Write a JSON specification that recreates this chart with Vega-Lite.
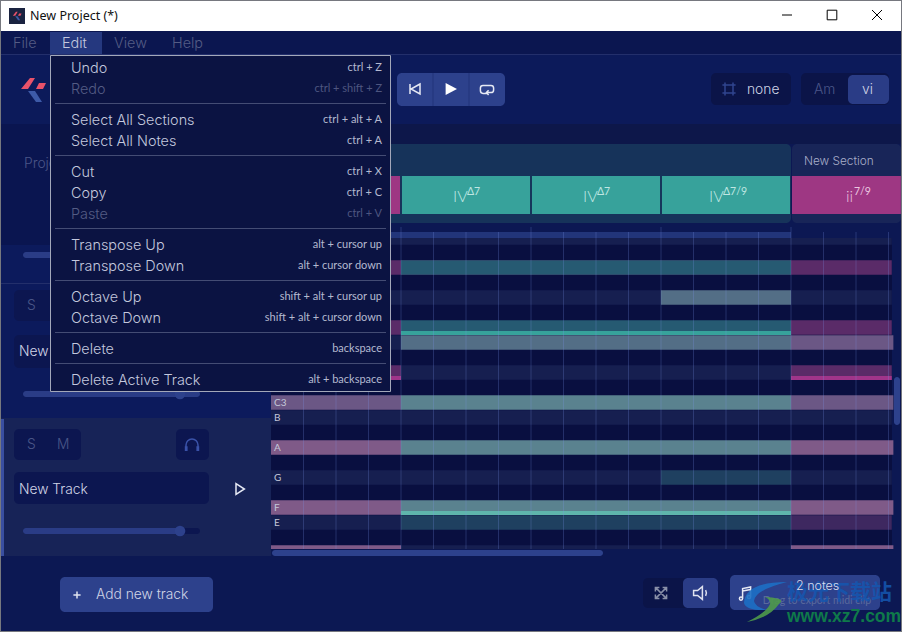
{
  "$schema": "https://vega.github.io/schema/vega-lite/v6.json",
  "width": 902,
  "height": 632,
  "autosize": {"type": "fit", "contains": "padding"},
  "padding": 0,
  "background": "#0c1853",
  "config": {"view": {"stroke": null}},
  "resolve": {"scale": {"x": "independent", "y": "independent", "color": "independent", "shape": "independent"}},
  "datasets": {
    "rows": [
      {"start": -4, "end": 15.1, "pitch": 59, "state": "band"},
      {"start": -4, "end": 12, "pitch": 57, "state": "chordPink"},
      {"start": 0, "end": 12, "pitch": 57, "state": "chordTeal"},
      {"start": 12, "end": 15.1, "pitch": 57, "state": "chordPink"},
      {"start": -4, "end": 8, "pitch": 55, "state": "band"},
      {"start": 8, "end": 12, "pitch": 55, "state": "grey"},
      {"start": 12, "end": 15.1, "pitch": 55, "state": "band"},
      {"start": -4, "end": 0, "pitch": 53, "state": "chordPink"},
      {"start": 0, "end": 12, "pitch": 53, "state": "chordTeal"},
      {"start": 12, "end": 15.1, "pitch": 53, "state": "chordPink"},
      {"start": -4, "end": 0, "pitch": 52, "state": "band"},
      {"start": 0, "end": 12, "pitch": 52, "state": "grey"},
      {"start": 12, "end": 15.15, "pitch": 52, "state": "greyPink"},
      {"start": -4, "end": 0, "pitch": 50, "state": "chordPink"},
      {"start": 0, "end": 12, "pitch": 50, "state": "band"},
      {"start": 12, "end": 15.1, "pitch": 50, "state": "chordPink"},
      {"start": -4, "end": 0, "pitch": 48, "state": "greyPink"},
      {"start": 0, "end": 12, "pitch": 48, "state": "paleTeal"},
      {"start": 12, "end": 15.15, "pitch": 48, "state": "greyPink"},
      {"start": -4, "end": 15.1, "pitch": 47, "state": "band"},
      {"start": -4, "end": 0, "pitch": 45, "state": "palePink"},
      {"start": 0, "end": 12, "pitch": 45, "state": "paleTeal"},
      {"start": 12, "end": 15.15, "pitch": 45, "state": "palePink"},
      {"start": -4, "end": 8, "pitch": 43, "state": "band"},
      {"start": 8, "end": 12, "pitch": 43, "state": "darkTeal"},
      {"start": 12, "end": 15.1, "pitch": 43, "state": "band"},
      {"start": -4, "end": 0, "pitch": 41, "state": "palePink"},
      {"start": 0, "end": 12, "pitch": 41, "state": "paleTeal"},
      {"start": 12, "end": 15.15, "pitch": 41, "state": "palePink"},
      {"start": -4, "end": 0, "pitch": 40, "state": "band"},
      {"start": 0, "end": 12, "pitch": 40, "state": "darkTeal"},
      {"start": 12, "end": 15.1, "pitch": 40, "state": "darkPink"},
      {"start": -4, "end": 0, "pitch": 38, "state": "palePink"},
      {"start": 0, "end": 12, "pitch": 38, "state": "band"},
      {"start": 12, "end": 15.15, "pitch": 38, "state": "palePink"}
    ]
  },
  "encoding": {
    "x": {"field": "x", "type": "quantitative", "scale": {"domain": [0, 902], "range": [0, 902]}, "axis": null},
    "y": {"field": "y", "type": "quantitative", "scale": {"domain": [0, 632], "range": [0, 632]}, "axis": null}
  },
  "layer": [
    {
      "data": {"values": [
        {"part": "frame", "x": 0, "x2": 902, "y": 0, "y2": 632},
        {"part": "main", "x": 1, "x2": 901, "y": 1, "y2": 631},
        {"part": "title", "x": 1, "x2": 901, "y": 1, "y2": 31},
        {"part": "menubar", "x": 1, "x2": 901, "y": 31, "y2": 54},
        {"part": "line", "x": 1, "x2": 901, "y": 54, "y2": 55},
        {"part": "edit", "x": 50, "x2": 102, "y": 32, "y2": 54},
        {"part": "header", "x": 1, "x2": 901, "y": 55, "y2": 124},
        {"part": "sidebar", "x": 1, "x2": 271, "y": 124, "y2": 245},
        {"part": "strip", "x": 271, "x2": 901, "y": 124, "y2": 144},
        {"part": "track", "x": 1, "x2": 271, "y": 245, "y2": 418},
        {"part": "line", "x": 1, "x2": 271, "y": 283, "y2": 284},
        {"part": "active", "x": 1, "x2": 271, "y": 418, "y2": 556},
        {"part": "accent", "x": 1, "x2": 4, "y": 419, "y2": 556},
        {"part": "roll", "x": 271, "x2": 892, "y": 238, "y2": 549}
      ]},
      "mark": {"type": "rect"},
      "encoding": {
        "x2": {"field": "x2"},
        "y2": {"field": "y2"},
        "color": {"field": "part", "type": "nominal", "legend": null, "scale": {
          "domain": ["frame", "main", "title", "menubar", "line", "edit", "header", "sidebar", "strip", "track", "active", "accent", "roll"],
          "range": ["#76787f", "#0c1853", "#ffffff", "#0b1650", "#232f6b", "#25387f", "#0c1a5a", "#0a1550", "#0d174a", "#0c1a5c", "#172357", "#3a4fa0", "#090f40"]
        }}
      }
    },
    {
      "data": {"name": "rows"},
      "mark": {"type": "rect"},
      "encoding": {
        "x": {"field": "start", "type": "quantitative", "scale": {"domain": [-4, 12], "range": [271, 791]}, "axis": null},
        "x2": {"field": "end"},
        "y": {"field": "pitch", "type": "ordinal", "axis": null, "scale": {
          "type": "band",
          "domain": [59, 58, 57, 56, 55, 54, 53, 52, 51, 50, 49, 48, 47, 46, 45, 44, 43, 42, 41, 40, 39, 38],
          "range": [230, 560],
          "paddingInner": 0.03,
          "paddingOuter": 0.015
        }},
        "color": {"field": "state", "type": "nominal", "legend": null, "scale": {
          "domain": ["band", "chordPink", "chordTeal", "grey", "greyPink", "paleTeal", "palePink", "darkTeal", "darkPink"],
          "range": ["#161f50", "#5a2b68", "#265a72", "#536e86", "#6b5785", "#5a828f", "#7f5a88", "#1f4060", "#3e2860"]
        }}
      }
    },
    {
      "data": {"values": [
        {"start": 0, "end": 12, "pitch": 53, "voice": "teal"},
        {"start": -4, "end": 0, "pitch": 50, "voice": "pink"},
        {"start": 12, "end": 15.1, "pitch": 50, "voice": "pink"},
        {"start": 0, "end": 12, "pitch": 41, "voice": "bright"}
      ]},
      "mark": {"type": "rect", "height": 4, "yOffset": 5.5},
      "encoding": {
        "x": {"field": "start", "type": "quantitative", "scale": {"domain": [-4, 12], "range": [271, 791]}, "axis": null},
        "x2": {"field": "end"},
        "y": {"field": "pitch", "type": "ordinal", "axis": null, "scale": {
          "type": "band",
          "domain": [59, 58, 57, 56, 55, 54, 53, 52, 51, 50, 49, 48, 47, 46, 45, 44, 43, 42, 41, 40, 39, 38],
          "range": [230, 560],
          "paddingInner": 0.03,
          "paddingOuter": 0.015
        }},
        "color": {"field": "voice", "type": "nominal", "legend": null, "scale": {"domain": ["teal", "pink", "bright"], "range": ["#37a29b", "#a0358a", "#5fb5ac"]}}
      }
    },
    {
      "data": {"values": [
        {"part": "main", "x": 271, "x2": 901, "y": 223, "y2": 238},
        {"part": "main", "x": 271, "x2": 901, "y": 549, "y2": 631},
        {"part": "ruler", "x": 271, "x2": 791, "y": 232, "y2": 238}
      ]},
      "mark": {"type": "rect"},
      "encoding": {
        "x2": {"field": "x2"},
        "y2": {"field": "y2"},
        "color": {"field": "part", "type": "nominal", "legend": null, "scale": {"domain": ["main", "ruler"], "range": ["#0c1853", "#22357a"]}}
      }
    },
    {
      "data": {"values": [
        {"beat": -3, "y": 232, "y2": 549}, {"beat": -2, "y": 232, "y2": 549}, {"beat": -1, "y": 232, "y2": 549},
        {"beat": 1, "y": 232, "y2": 549}, {"beat": 2, "y": 232, "y2": 549}, {"beat": 3, "y": 232, "y2": 549},
        {"beat": 5, "y": 232, "y2": 549}, {"beat": 6, "y": 232, "y2": 549}, {"beat": 7, "y": 232, "y2": 549},
        {"beat": 9, "y": 232, "y2": 549}, {"beat": 10, "y": 232, "y2": 549}, {"beat": 11, "y": 232, "y2": 549},
        {"beat": 13, "y": 232, "y2": 549}, {"beat": 14, "y": 232, "y2": 549}, {"beat": 15, "y": 232, "y2": 549},
        {"beat": 0, "y": 227, "y2": 549}, {"beat": 4, "y": 227, "y2": 549}, {"beat": 8, "y": 227, "y2": 549}, {"beat": 12, "y": 227, "y2": 549}
      ]},
      "mark": {"type": "rule", "color": "#7f95f0", "opacity": 0.24, "strokeWidth": 1},
      "encoding": {
        "x": {"field": "beat", "type": "quantitative", "scale": {"domain": [-4, 12], "range": [271, 791]}, "axis": null},
        "y2": {"field": "y2"}
      }
    },
    {
      "data": {"values": [
        {"part": "sectionOne", "x": 271, "x2": 791, "y": 144, "y2": 223},
        {"part": "sectionTwo", "x": 792, "x2": 901, "y": 144, "y2": 223},
        {"part": "button", "x": 397, "x2": 505, "y": 73, "y2": 106},
        {"part": "chip", "x": 711, "x2": 791, "y": 73, "y2": 105},
        {"part": "chip", "x": 801, "x2": 889, "y": 73, "y2": 105},
        {"part": "toggle", "x": 848, "x2": 889, "y": 75, "y2": 104},
        {"part": "field", "x": 14, "x2": 81, "y": 290, "y2": 321},
        {"part": "field", "x": 14, "x2": 209, "y": 335, "y2": 368},
        {"part": "field", "x": 14, "x2": 81, "y": 429, "y2": 460},
        {"part": "field", "x": 176, "x2": 209, "y": 429, "y2": 460},
        {"part": "field", "x": 14, "x2": 209, "y": 472, "y2": 504},
        {"part": "toggle", "x": 23, "x2": 200, "y": 252, "y2": 258},
        {"part": "toggle", "x": 23, "x2": 200, "y": 391, "y2": 397},
        {"part": "field", "x": 175, "x2": 200, "y": 528, "y2": 534},
        {"part": "toggle", "x": 23, "x2": 180, "y": 528, "y2": 534},
        {"part": "button", "x": 60, "x2": 213, "y": 577, "y2": 612},
        {"part": "chip", "x": 643, "x2": 690, "y": 578, "y2": 608},
        {"part": "toggle", "x": 683, "x2": 718, "y": 578, "y2": 608},
        {"part": "button", "x": 730, "x2": 880, "y": 575, "y2": 610},
        {"part": "button", "x": 272, "x2": 603, "y": 550, "y2": 556},
        {"part": "button", "x": 894, "x2": 900, "y": 377, "y2": 425}
      ]},
      "mark": {"type": "rect", "cornerRadius": 5},
      "encoding": {
        "x2": {"field": "x2"},
        "y2": {"field": "y2"},
        "color": {"field": "part", "type": "nominal", "legend": null, "scale": {
          "domain": ["sectionOne", "sectionTwo", "button", "chip", "toggle", "field"],
          "range": ["#16335a", "#182558", "#2d418c", "#0b1448", "#2a3c86", "#0c1650"]
        }}
      }
    },
    {
      "data": {"values": [
        {"x": 432.5, "x2": 433.5, "y": 73, "y2": 106},
        {"x": 468.5, "x2": 469.5, "y": 73, "y2": 106}
      ]},
      "mark": {"type": "rect", "color": "#22357a"},
      "encoding": {"x2": {"field": "x2"}, "y2": {"field": "y2"}}
    },
    {
      "data": {"values": [
        {"start": -4, "end": -0.03, "quality": "pink", "y": 176, "y2": 214},
        {"start": 0.03, "end": 3.97, "quality": "teal", "y": 176, "y2": 214},
        {"start": 4.03, "end": 7.97, "quality": "teal", "y": 176, "y2": 214},
        {"start": 8.03, "end": 11.97, "quality": "teal", "y": 176, "y2": 214},
        {"start": 12.03, "end": 15.38, "quality": "pink", "y": 176, "y2": 214}
      ]},
      "mark": {"type": "rect"},
      "encoding": {
        "x": {"field": "start", "type": "quantitative", "scale": {"domain": [-4, 12], "range": [271, 791]}, "axis": null},
        "x2": {"field": "end"},
        "y2": {"field": "y2"},
        "color": {"field": "quality", "type": "nominal", "legend": null, "scale": {"domain": ["pink", "teal"], "range": ["#9e3783", "#37a29b"]}}
      }
    },
    {
      "data": {"values": [{"x": 180, "y": 394}, {"x": 180, "y": 531}]},
      "mark": {"type": "circle", "size": 113, "color": "#2d418c", "opacity": 1}
    },
    {
      "data": {"values": [
        {"x": 24, "y": 164, "label": "Project", "tone": "dim"},
        {"x": 27, "y": 306, "label": "S", "tone": "dim"},
        {"x": 27, "y": 445, "label": "S", "tone": "dim"},
        {"x": 57, "y": 445, "label": "M", "tone": "dim"},
        {"x": 19, "y": 352, "label": "New Track", "tone": "text"},
        {"x": 19, "y": 490, "label": "New Track", "tone": "text"},
        {"x": 96, "y": 594.5, "label": "Add new track", "tone": "text"},
        {"x": 747, "y": 89.5, "label": "none", "tone": "text"},
        {"x": 814, "y": 89.5, "label": "Am", "tone": "dim"},
        {"x": 862, "y": 89.5, "label": "vi", "tone": "text"}
      ]},
      "mark": {"type": "text", "align": "left", "baseline": "middle", "font": "Inter", "fontWeight": 300, "fontSize": 13.8},
      "encoding": {
        "text": {"field": "label"},
        "color": {"field": "tone", "type": "nominal", "legend": null, "scale": {"domain": ["dim", "text"], "range": ["#4a5688", "#d0d4e6"]}}
      }
    },
    {
      "data": {"values": [{"x": 804, "y": 160.5, "label": "New Section"}]},
      "mark": {"type": "text", "align": "left", "baseline": "middle", "font": "Inter", "fontWeight": 300, "fontSize": 11.8, "color": "#a8aec8"},
      "encoding": {"text": {"field": "label"}}
    },
    {
      "data": {"values": [
        {"x": 453, "y": 197, "label": "IV", "tone": "teal"},
        {"x": 583, "y": 197, "label": "IV", "tone": "teal"},
        {"x": 709, "y": 197, "label": "IV", "tone": "teal"},
        {"x": 846, "y": 197, "label": "ii", "tone": "pink"}
      ]},
      "mark": {"type": "text", "align": "left", "baseline": "middle", "font": "Lato", "fontSize": 16, "fontWeight": 300},
      "encoding": {
        "text": {"field": "label"},
        "color": {"field": "tone", "type": "nominal", "legend": null, "scale": {"domain": ["teal", "pink"], "range": ["#bfe6e2", "#ecc6e0"]}}
      }
    },
    {
      "data": {"values": [
        {"x": 467, "y": 192, "label": "Δ7", "tone": "teal"},
        {"x": 597, "y": 192, "label": "Δ7", "tone": "teal"},
        {"x": 723, "y": 192, "label": "Δ7/9", "tone": "teal"},
        {"x": 854, "y": 192, "label": "7/9", "tone": "pink"}
      ]},
      "mark": {"type": "text", "align": "left", "baseline": "middle", "font": "Lato", "fontSize": 10.5},
      "encoding": {
        "text": {"field": "label"},
        "color": {"field": "tone", "type": "nominal", "legend": null, "scale": {"domain": ["teal", "pink"], "range": ["#bfe6e2", "#ecc6e0"]}}
      }
    },
    {
      "data": {"values": [
        {"x": 274, "y": 403, "label": "C3"},
        {"x": 274, "y": 418, "label": "B"},
        {"x": 274, "y": 448, "label": "A"},
        {"x": 274, "y": 478, "label": "G"},
        {"x": 274, "y": 508, "label": "F"},
        {"x": 274, "y": 523, "label": "E"}
      ]},
      "mark": {"type": "text", "align": "left", "baseline": "middle", "font": "Lato", "fontSize": 10, "color": "#c4c8da"},
      "encoding": {"text": {"field": "label"}}
    },
    {
      "data": {"values": [{"x": 50.5, "x2": 390.5, "y": 55.5, "y2": 391.5}]},
      "mark": {"type": "rect", "fill": "#0b1342", "stroke": "#a3a8ba", "strokeWidth": 1},
      "encoding": {"x2": {"field": "x2"}, "y2": {"field": "y2"}}
    },
    {
      "data": {"values": [{"x": 55, "x2": 386, "y": 103.5}, {"x": 55, "x2": 386, "y": 155.5}, {"x": 55, "x2": 386, "y": 228.5}, {"x": 55, "x2": 386, "y": 280.5}, {"x": 55, "x2": 386, "y": 332.5}, {"x": 55, "x2": 386, "y": 363.5}]},
      "mark": {"type": "rule", "color": "#444c74", "strokeWidth": 1},
      "encoding": {"x2": {"field": "x2"}}
    },
    {
      "data": {"values": [
        {"x": 13, "y": 43.5, "label": "File", "tone": "off"},
        {"x": 62, "y": 43.5, "label": "Edit", "tone": "on"},
        {"x": 114, "y": 43.5, "label": "View", "tone": "off"},
        {"x": 172, "y": 43.5, "label": "Help", "tone": "off"},
        {"x": 71, "y": 68.5, "label": "Undo", "tone": "on"},
        {"x": 71, "y": 89.5, "label": "Redo", "tone": "off"},
        {"x": 71, "y": 120.5, "label": "Select All Sections", "tone": "on"},
        {"x": 71, "y": 141.5, "label": "Select All Notes", "tone": "on"},
        {"x": 71, "y": 172.5, "label": "Cut", "tone": "on"},
        {"x": 71, "y": 193.5, "label": "Copy", "tone": "on"},
        {"x": 71, "y": 214.5, "label": "Paste", "tone": "off"},
        {"x": 71, "y": 245.5, "label": "Transpose Up", "tone": "on"},
        {"x": 71, "y": 266.5, "label": "Transpose Down", "tone": "on"},
        {"x": 71, "y": 297.5, "label": "Octave Up", "tone": "on"},
        {"x": 71, "y": 318.5, "label": "Octave Down", "tone": "on"},
        {"x": 71, "y": 349.5, "label": "Delete", "tone": "on"},
        {"x": 71, "y": 380.5, "label": "Delete Active Track", "tone": "on"}
      ]},
      "mark": {"type": "text", "align": "left", "baseline": "middle", "font": "Inter", "fontWeight": 300, "fontSize": 14.4},
      "encoding": {
        "text": {"field": "label"},
        "color": {"field": "tone", "type": "nominal", "legend": null, "scale": {"domain": ["on", "off"], "range": ["#c3c8de", "#545c84"]}}
      }
    },
    {
      "data": {"values": [
        {"x": 382, "y": 68, "label": "ctrl + Z", "tone": "on"},
        {"x": 382, "y": 89, "label": "ctrl + shift + Z", "tone": "off"},
        {"x": 382, "y": 120, "label": "ctrl + alt + A", "tone": "on"},
        {"x": 382, "y": 141, "label": "ctrl + A", "tone": "on"},
        {"x": 382, "y": 172, "label": "ctrl + X", "tone": "on"},
        {"x": 382, "y": 193, "label": "ctrl + C", "tone": "on"},
        {"x": 382, "y": 214, "label": "ctrl + V", "tone": "off"},
        {"x": 382, "y": 245, "label": "alt + cursor up", "tone": "on"},
        {"x": 382, "y": 266, "label": "alt + cursor down", "tone": "on"},
        {"x": 382, "y": 297, "label": "shift + alt + cursor up", "tone": "on"},
        {"x": 382, "y": 318, "label": "shift + alt + cursor down", "tone": "on"},
        {"x": 382, "y": 349, "label": "backspace", "tone": "on"},
        {"x": 382, "y": 380, "label": "alt + backspace", "tone": "on"}
      ]},
      "mark": {"type": "text", "align": "right", "baseline": "middle", "font": "Lato", "fontSize": 11},
      "encoding": {
        "text": {"field": "label"},
        "color": {"field": "tone", "type": "nominal", "legend": null, "scale": {"domain": ["on", "off"], "range": ["#b4b9d0", "#4e5680"]}}
      }
    },
    {
      "data": {"values": [{"x": 30, "y": 16, "label": "New Project (*)"}]},
      "mark": {"type": "text", "align": "left", "baseline": "middle", "font": "Noto Sans", "fontSize": 12.5, "color": "#111111"},
      "encoding": {"text": {"field": "label"}}
    },
    {
      "data": {"values": [{"x": 9, "x2": 25, "y": 8, "y2": 24}]},
      "mark": {"type": "rect", "color": "#1a2340"},
      "encoding": {"x2": {"field": "x2"}, "y2": {"field": "y2"}}
    },
    {
      "data": {"values": [{"x": 17, "y": 16, "icon": "wings"}, {"x": 17, "y": 16, "icon": "tail"}]},
      "mark": {"type": "point", "filled": true, "opacity": 1, "size": 196},
      "encoding": {
        "shape": {"field": "icon", "type": "nominal", "legend": null, "scale": {"domain": ["wings", "tail"], "range": ["M-.15 -.6L.1 -.6L-.25 -.05L-.6 -.05ZM.3 -.35L.65 -.35L.5 -.05L.15 -.05Z", "M-.25 .05L.1 .05L.45 .6L.15 .6Z"]}},
        "color": {"field": "icon", "type": "nominal", "legend": null, "scale": {"domain": ["wings", "tail"], "range": ["#e8526a", "#3d5aa8"]}}
      }
    },
    {
      "data": {"values": [
        {"x": 33, "y": 90, "icon": "wings"},
        {"x": 33, "y": 90, "icon": "tail"},
        {"x": 451, "y": 89, "icon": "play"},
        {"x": 192, "y": 445, "icon": "cups"}
      ]},
      "mark": {"type": "point", "filled": true, "opacity": 1, "size": 1600},
      "encoding": {
        "shape": {"field": "icon", "type": "nominal", "legend": null, "scale": {
          "domain": ["wings", "tail", "play", "cups"],
          "range": [
            "M-.15 -.6L.1 -.6L-.25 -.05L-.6 -.05ZM.3 -.35L.65 -.35L.5 -.05L.15 -.05Z",
            "M-.25 .05L.1 .05L.45 .6L.15 .6Z",
            "M-.27 -.3L.3 0L-.27 .3Z",
            "M-.36 .06H-.22V.3H-.36ZM.22 .06H.36V.3H.22Z"
          ]
        }},
        "color": {"field": "icon", "type": "nominal", "legend": null, "scale": {
          "domain": ["wings", "tail", "play", "cups"],
          "range": ["#e8526a", "#3d5aa8", "#ffffff", "#3a52a8"]
        }}
      }
    },
    {
      "data": {"values": [
        {"x": 415, "y": 89, "icon": "skip"},
        {"x": 487, "y": 89, "icon": "loop"},
        {"x": 729, "y": 89, "icon": "crop"},
        {"x": 192, "y": 445, "icon": "phones"},
        {"x": 240, "y": 489, "icon": "playOutline"},
        {"x": 661, "y": 593, "icon": "expand"},
        {"x": 700, "y": 593, "icon": "speaker"},
        {"x": 745, "y": 593, "icon": "note"},
        {"x": 77, "y": 595, "icon": "plus"}
      ]},
      "mark": {"type": "point", "filled": false, "opacity": 1, "size": 1600, "strokeWidth": 1.5},
      "encoding": {
        "shape": {"field": "icon", "type": "nominal", "legend": null, "scale": {
          "domain": ["skip", "loop", "crop", "phones", "playOutline", "expand", "speaker", "note", "plus"],
          "range": [
            "M-.25 -.25V.25M.25 -.25L-.2 0L.25 .25Z",
            "M.05 .22H-.2Q-.33 .22 -.33 .08V-.05Q-.33 -.18 -.2 -.18H.2Q.33 -.18 .33 -.05V.05Q.33 .18 .2 .18H-.02M.08 .06L-.03 .18L.08 .3",
            "M-.2 -.33V.33M.2 -.33V.33M-.33 -.2H.33M-.33 .2H.33",
            "M-.3 .1V0A.3 .3 0 0 1 .3 0V.1",
            "M-.2 -.27L.22 0L-.2 .27Z",
            "M-.28 -.28L.28 .28M.28 -.28L-.28 .28M-.28 -.08V-.28H-.08M.08 -.28H.28V-.08M.28 .08V.28H.08M-.08 .28H-.28V.08",
            "M-.32 -.12H-.12L.12 -.32V.32L-.12 .12H-.32ZM.28 -.14Q.36 0 .28 .14",
            "M-.12 .28V-.22L.28 -.3V.2M-.12 -.1L.28 -.18M-.12 .28A.08 .08 0 1 1 -.28 .28A.08 .08 0 1 1 -.12 .28M.28 .2A.08 .08 0 1 1 .12 .2A.08 .08 0 1 1 .28 .2",
            "M-.18 0H.18M0 -.18V.18"
          ]
        }},
        "color": {"field": "icon", "type": "nominal", "legend": null, "scale": {
          "domain": ["skip", "loop", "crop", "phones", "playOutline", "expand", "speaker", "note", "plus"],
          "range": ["#e6e9f4", "#e6e9f4", "#30448f", "#3a52a8", "#e6e9f4", "#8a90a8", "#e0e3f0", "#e6e9f4", "#e0e3f0"]
        }}
      }
    },
    {
      "data": {"values": [
        {"x": 787, "y": 15, "icon": "minimise"},
        {"x": 832, "y": 15, "icon": "maximise"},
        {"x": 877, "y": 15, "icon": "close"}
      ]},
      "mark": {"type": "point", "filled": false, "opacity": 1, "size": 1600, "strokeWidth": 1, "color": "#000000"},
      "encoding": {
        "shape": {"field": "icon", "type": "nominal", "legend": null, "scale": {
          "domain": ["minimise", "maximise", "close"],
          "range": ["M-.25 0H.25", "M-.24 -.24H.24V.24H-.24Z", "M-.25 -.25L.25 .25M.25 -.25L-.25 .25"]
        }}
      }
    },
    {
      "data": {"values": [{"x": 817, "y": 601, "label": "Drag to export midi clip"}]},
      "mark": {"type": "text", "align": "center", "baseline": "middle", "font": "Lato", "fontSize": 10.5, "color": "#5a6a9c"},
      "encoding": {"text": {"field": "label"}}
    },
    {
      "data": {"values": [
        {"x": 757, "y": 600, "icon": "swooshBlue"},
        {"x": 757, "y": 600, "icon": "swooshGreen"}
      ]},
      "mark": {"type": "point", "filled": true, "opacity": 0.9, "size": 1600},
      "encoding": {
        "shape": {"field": "icon", "type": "nominal", "legend": null, "scale": {
          "domain": ["swooshBlue", "swooshGreen"],
          "range": [
            "M1.5 -.9Q-.6 -.9 -.65 .15Q-.55 .55 .5 .5Q-.1 .35 -.15 .05Q-.1 -.5 1.5 -.9Z",
            "M.4 -.15Q1.5 -.1 1.1 .2Q.6 .9 -.5 1.1Q.5 .6 .65 .2Q.7 0 .4 -.15Z"
          ]
        }},
        "color": {"field": "icon", "type": "nominal", "legend": null, "scale": {"domain": ["swooshBlue", "swooshGreen"], "range": ["#1d6fc4", "#4f9a4a"]}}
      }
    },
    {
      "data": {"values": [{"x": 787, "y": 593, "label": "极光下载站"}]},
      "mark": {"type": "text", "align": "left", "baseline": "middle", "font": "Noto Sans CJK SC", "fontSize": 21, "fontWeight": "bold", "color": "#1557b0", "opacity": 0.85},
      "encoding": {"text": {"field": "label"}}
    },
    {
      "data": {"values": [{"x": 787, "y": 617, "label": "www.xz7.com"}]},
      "mark": {"type": "text", "align": "left", "baseline": "middle", "font": "Liberation Sans", "fontSize": 17.5, "fontWeight": "bold", "color": "#0f7a4a"},
      "encoding": {"text": {"field": "label"}}
    },
    {
      "data": {"values": [{"x": 796, "y": 586, "label": "2 notes"}]},
      "mark": {"type": "text", "align": "left", "baseline": "middle", "font": "Inter", "fontWeight": 300, "fontSize": 12.5, "color": "#d8dcec"},
      "encoding": {"text": {"field": "label"}}
    }
  ]
}
